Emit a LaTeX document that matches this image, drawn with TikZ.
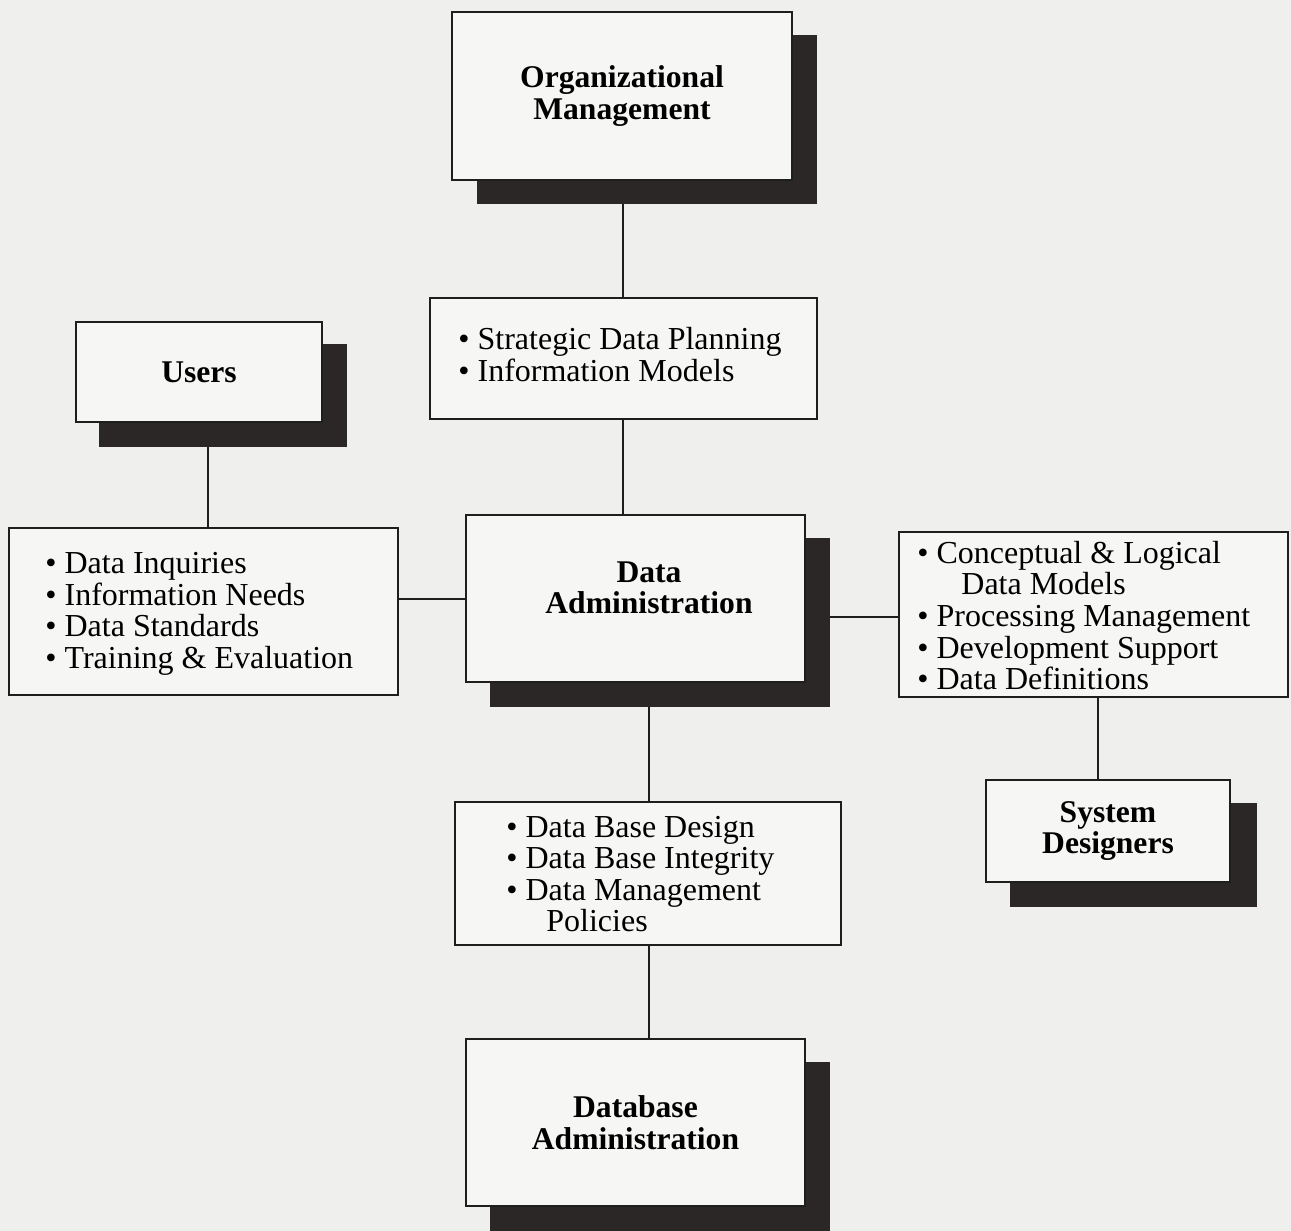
\documentclass[tikz,border=0pt]{standalone}
\usepackage{fontspec}
\setmainfont{Liberation Serif}
\definecolor{bg}{HTML}{EFEFED}
\definecolor{boxc}{HTML}{F6F6F4}
\definecolor{shc}{HTML}{2B2727}
\definecolor{lc}{HTML}{1E1E1E}
\begin{document}
\begin{tikzpicture}[x=0.5pt,y=-0.5pt,
  titlebox/.style={draw=lc,line width=1pt,fill=boxc,inner sep=0pt,align=center,
    font=\fontsize{15.8}{15.8}\selectfont\bfseries},
  plainbox/.style={draw=lc,line width=1pt,fill=boxc,inner sep=0pt},
  listtext/.style={anchor=west,align=left,inner sep=0pt,
    font=\fontsize{16}{15.8}\selectfont},
  shadowc/.style={fill=shc},
  conn/.style={draw=lc,line width=1pt}]
\useasboundingbox (0,0) rectangle (1291,1231);
\fill[bg] (0,0) rectangle (1291,1231);

% box centres
\coordinate (orgc) at (622,96);
\coordinate (stratc) at (623.5,358.5);
\coordinate (usersc) at (199,372);
\coordinate (leftc) at (203.5,611.5);
\coordinate (dac) at (635.5,598.5);
\coordinate (rightc) at (1093.5,614.5);
\coordinate (dbdc) at (647.5,873.5);
\coordinate (sysc) at (1108,831);
\coordinate (dbac) at (635.5,1122.5);

% placeholders with the boxes' extents, for the connectors
\path (orgc) node[minimum width=170pt,minimum height=84pt,inner sep=0pt] (orgp) {};
\path (stratc) node[minimum width=193.5pt,minimum height=60.5pt,inner sep=0pt] (stratp) {};
\path (usersc) node[minimum width=123pt,minimum height=50pt,inner sep=0pt] (usersp) {};
\path (leftc) node[minimum width=194.5pt,minimum height=83.5pt,inner sep=0pt] (leftp) {};
\path (dac) node[minimum width=169.5pt,minimum height=83.5pt,inner sep=0pt] (dap) {};
\path (rightc) node[minimum width=194.5pt,minimum height=82.5pt,inner sep=0pt] (rightp) {};
\path (dbdc) node[minimum width=193pt,minimum height=71.5pt,inner sep=0pt] (dbdp) {};
\path (sysc) node[minimum width=122pt,minimum height=51pt,inner sep=0pt] (sysp) {};
\path (dbac) node[minimum width=169.5pt,minimum height=83.5pt,inner sep=0pt] (dbap) {};

% connectors (drawn first, covered by shadows and boxes)
\draw[conn] (orgp.south -| 623,0) -- (stratp.north -| 623,0);
\draw[conn] (stratp.south -| 623,0) -- (dap.north -| 623,0);
\draw[conn] (usersp.south -| 208,0) -- (leftp.north -| 208,0);
\draw[conn] (leftp.east |- 0,599) -- (dap.west |- 0,599);
\draw[conn] (dap.east |- 0,617) -- (rightp.west |- 0,617);
\draw[conn] (rightp.south -| 1098,0) -- (sysp.north -| 1098,0);
\draw[conn] (dap.south -| 649,0) -- (dbdp.north -| 649,0);
\draw[conn] (dbdp.south -| 649,0) -- (dbap.north -| 649,0);

% shadows
\fill[shadowc] (477,35) rectangle (817,204);
\fill[shadowc] (99,344) rectangle (347,447);
\fill[shadowc] (490,538) rectangle (830,707);
\fill[shadowc] (1010,803) rectangle (1257,907);
\fill[shadowc] (490,1062) rectangle (830,1240);

% title boxes
\node[titlebox,minimum width=170pt,minimum height=84pt] (org) at (orgc) {Organizational\\Management};
\node[titlebox,minimum width=123pt,minimum height=50pt] (users) at (usersc) {Users};
\node[titlebox,minimum width=169.5pt,minimum height=83.5pt] (da) at (dac) {};
\node[font=\fontsize{15.8}{15.8}\selectfont\bfseries,align=center,inner sep=0pt] (datext) at (649,588) {Data\\Administration};
\node[titlebox,minimum width=122pt,minimum height=51pt] (sys) at (sysc) {System\\Designers};
\node[titlebox,minimum width=169.5pt,minimum height=83.5pt] (dba) at (dbac) {Database\\Administration};

% list boxes
\node[plainbox,minimum width=193.5pt,minimum height=60.5pt] (strat) at (stratc) {};
\node[listtext] (strattext) at (458,354.5)
  {• Strategic Data Planning\\• Information Models};
\node[plainbox,minimum width=194.5pt,minimum height=83.5pt] (left) at (leftc) {};
\node[listtext] (lefttext) at (45,614)
  {• Data Inquiries\\• Information Needs\\• Data Standards\\• Training \& Evaluation};
\node[plainbox,minimum width=194.5pt,minimum height=82.5pt] (right) at (rightc) {};
\node[listtext] (righttext) at (917,615.5)
  {• Conceptual \& Logical\\\hspace*{22pt}Data Models\\• Processing Management\\• Development Support\\• Data Definitions};
\node[plainbox,minimum width=193pt,minimum height=71.5pt] (dbd) at (dbdc) {};
\node[listtext] (dbdtext) at (506,874)
  {• Data Base Design\\• Data Base Integrity\\• Data Management\\\hspace*{20pt}Policies};
\end{tikzpicture}
\end{document}
